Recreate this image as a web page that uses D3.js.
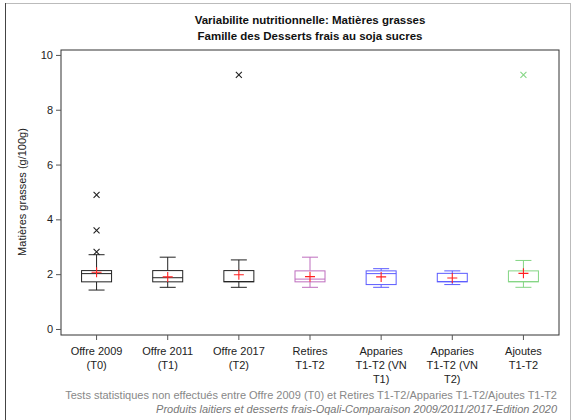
<!DOCTYPE html>
<html><head><meta charset="utf-8">
<script src="https://cdn.jsdelivr.net/npm/d3@7"></script>
<style>body{margin:0;background:#fff;}svg{display:block;font-family:"Liberation Sans",Arial,sans-serif;}</style>
</head><body><svg id="c" width="574" height="420"></svg>
<script>
const categories = [["Offre 2009","(T0)"],["Offre 2011","(T1)"],["Offre 2017","(T2)"],["Retires","T1-T2"],["Apparies","T1-T2 (VN","T1)"],["Apparies","T1-T2 (VN","T2)"],["Ajoutes","T1-T2"]];
const colors = ["#222","#222","#222","#b04ab0","#3333ff","#3333ff","#66cc66"];
const lowWhisker = [1.42,1.52,1.52,1.52,1.52,1.62,1.52];
const q1 = [1.72,1.72,1.72,1.72,1.62,1.72,1.72];
const median = [2.02,1.87,1.73,1.82,2.02,1.73,1.73];
const q3 = [2.13,2.13,2.13,2.12,2.12,2.03,2.12];
const highWhisker = [2.71,2.62,2.52,2.62,2.2,2.12,2.5];
const means = [2.07,1.90,1.98,1.91,1.90,1.86,2.03];
const outliers = [[4.89,3.6,2.81],[],[9.27],[],[],[],[9.27]];
const yTicks = [0,2,4,6,8,10];

const svg = d3.select("#c");
const L=61,R=559,T=50,B=335;
svg.append("rect").attr("x",5.5).attr("y",3.5).attr("width",565).attr("height",420).attr("fill","none").attr("stroke","#bbb");
svg.append("line").attr("x1",5.5).attr("x2",5.5).attr("y1",3).attr("y2",420).attr("stroke","#444");

const y = d3.scaleLinear().domain([-0.22,10.18]).range([B,T]);
const x = d3.scaleBand().domain(d3.range(categories.length)).range([L,R]);

svg.append("rect").attr("x",L).attr("y",T).attr("width",R-L).attr("height",B-T).attr("fill","none").attr("stroke","#333").attr("stroke-width",1);

const ya = svg.append("g").attr("transform",`translate(${L},0)`).call(d3.axisLeft(y).tickValues(yTicks).tickSize(5).tickFormat(d3.format("d")));
ya.select(".domain").remove();
ya.selectAll("text").attr("font-size",11).attr("fill","#222").attr("font-family","Liberation Sans, Arial, sans-serif");
ya.selectAll("line").attr("stroke","#555");

const xa = svg.append("g").attr("transform",`translate(0,${B})`).call(d3.axisBottom(x).tickSize(5).tickFormat(""));
xa.select(".domain").remove();
xa.selectAll("line").attr("stroke","#555");
xa.selectAll(".tick").each(function(d){
  const t=d3.select(this).append("text").attr("fill","#222").attr("font-size",11).attr("text-anchor","middle");
  categories[d].forEach((s,i)=>t.append("tspan").attr("x",0).attr("y",20+i*14).text(s));
});

const bw=30, cw=16;
categories.forEach((c,i)=>{
  const cx = x(i)+x.bandwidth()/2, col=colors[i];
  const g = svg.append("g").attr("stroke",col).attr("fill","none").attr("stroke-width",1).attr("opacity",i>=3?0.8:1);
  g.append("line").attr("x1",cx).attr("x2",cx).attr("y1",y(q3[i])).attr("y2",y(highWhisker[i]));
  g.append("line").attr("x1",cx).attr("x2",cx).attr("y1",y(q1[i])).attr("y2",y(lowWhisker[i]));
  g.append("line").attr("x1",cx-cw/2).attr("x2",cx+cw/2).attr("y1",y(highWhisker[i])).attr("y2",y(highWhisker[i]));
  g.append("line").attr("x1",cx-cw/2).attr("x2",cx+cw/2).attr("y1",y(lowWhisker[i])).attr("y2",y(lowWhisker[i]));
  g.append("rect").attr("x",cx-bw/2).attr("width",bw).attr("y",y(q3[i])).attr("height",y(q1[i])-y(q3[i])).attr("fill","#fff");
  g.append("line").attr("x1",cx-bw/2).attr("x2",cx+bw/2).attr("y1",y(median[i])).attr("y2",y(median[i]));
  outliers[i].forEach(v=>{
    const oy=y(v);
    g.append("path").attr("d",`M${cx-3},${oy-3}L${cx+3},${oy+3}M${cx-3},${oy+3}L${cx+3},${oy-3}`).attr("stroke-width",1.1);
  });
  const my=y(means[i]);
  svg.append("path").attr("d",`M${cx-5},${my}L${cx+5},${my}M${cx},${my-5}L${cx},${my+5}`).attr("stroke","#ff2020").attr("stroke-width",1.1).attr("fill","none");
});

svg.append("text").attr("x",310).attr("y",24).attr("text-anchor","middle").attr("font-size",11.5).attr("font-weight","bold").attr("fill","#111").text("Variabilite nutritionnelle: Matières grasses");
svg.append("text").attr("x",310).attr("y",40).attr("text-anchor","middle").attr("font-size",11.5).attr("font-weight","bold").attr("fill","#111").text("Famille des Desserts frais au soja sucres");
svg.append("text").attr("transform","translate(26,192) rotate(-90)").attr("text-anchor","middle").attr("font-size",11).attr("fill","#222").text("Matières grasses (g/100g)");
svg.append("text").attr("x",557).attr("y",399).attr("text-anchor","end").attr("font-size",11).attr("fill","#888").text("Tests statistiques non effectués entre Offre 2009 (T0) et Retires T1-T2/Apparies T1-T2/Ajoutes T1-T2");
svg.append("text").attr("x",557).attr("y",413).attr("text-anchor","end").attr("font-size",11).attr("font-style","italic").attr("fill","#777").text("Produits laitiers et desserts frais-Oqali-Comparaison 2009/2011/2017-Edition 2020");
</script></body></html>
